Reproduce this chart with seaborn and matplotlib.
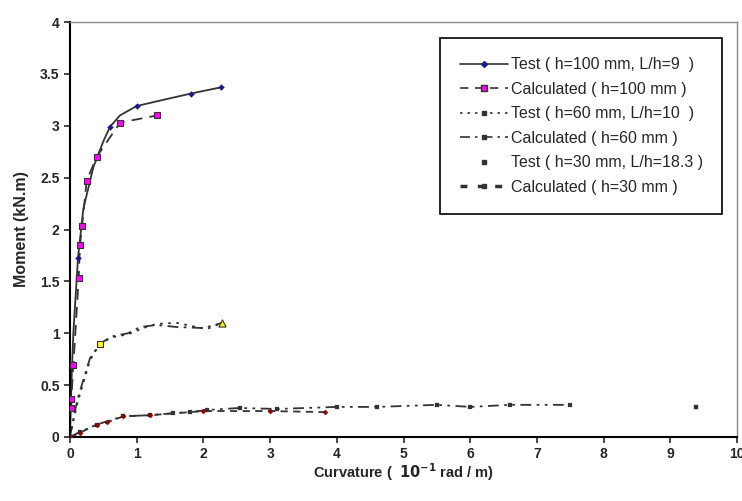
import matplotlib
matplotlib.use("Agg")
import matplotlib.pyplot as plt
import seaborn as sns
import pandas as pd
from matplotlib.lines import Line2D

# ---- data ----
test100_x = [0.0, 0.02, 0.05, 0.12, 0.2, 0.35, 0.5, 0.6, 0.75, 1.0, 1.4, 1.81, 2.26]
test100_y = [0.0, 0.5, 1.0, 1.73, 2.2, 2.6, 2.85, 2.99, 3.1, 3.19, 3.25, 3.31, 3.37]
test100_mx = [0.6, 1.0, 1.81, 2.26, 0.12]
test100_my = [2.99, 3.19, 3.31, 3.37, 1.73]

calc100_x = [0.02, 0.02, 0.05, 0.13, 0.15, 0.18, 0.25, 0.4, 0.75, 1.31]
calc100_y = [0.28, 0.37, 0.69, 1.53, 1.85, 2.03, 2.47, 2.70, 3.03, 3.10]

test60_x = [0.0, 0.05, 0.12, 0.2, 0.3, 0.45, 0.63, 0.87, 1.1, 1.3, 1.6, 2.05, 2.28]
test60_y = [0.0, 0.15, 0.35, 0.52, 0.74, 0.90, 0.96, 0.99, 1.05, 1.09, 1.10, 1.04, 1.10]

calc60_x = [0.0, 0.05, 0.12, 0.2, 0.3, 0.45, 0.63, 0.87, 1.05, 1.3, 1.6, 2.0, 2.28]
calc60_y = [0.0, 0.18, 0.38, 0.55, 0.76, 0.90, 0.97, 1.00, 1.06, 1.08, 1.06, 1.05, 1.10]

test30_x = [0.0, 0.15, 0.4, 0.8, 1.2, 1.55, 1.8, 2.05, 2.55, 3.1, 4.0, 4.6, 5.5, 6.0, 6.6, 7.5]
test30_y = [0.0, 0.05, 0.12, 0.2, 0.21, 0.23, 0.24, 0.26, 0.28, 0.27, 0.29, 0.29, 0.31, 0.29, 0.31, 0.31]
test30_last_x = [9.39]
test30_last_y = [0.29]

calc30_x = [0.0, 0.15, 0.4, 0.55, 0.8, 1.2, 2.0, 3.0, 3.82]
calc30_y = [0.0, 0.04, 0.12, 0.14, 0.20, 0.21, 0.25, 0.25, 0.24]

labels = ["Test ( h=100 mm, L/h=9  )", "Calculated ( h=100 mm )",
          "Test ( h=60 mm, L/h=10  )", "Calculated ( h=60 mm )",
          "Test ( h=30 mm, L/h=18.3 )", "Calculated ( h=30 mm )"]

xticks = [0, 1, 2, 3, 4, 5, 6, 7, 8, 9, 10]
yticks = [0, 0.5, 1, 1.5, 2, 2.5, 3, 3.5, 4]
ytick_labels = ["0", "0.5", "1", "1.5", "2", "2.5", "3", "3.5", "4"]

# ---- plot ----
sns.set_style("ticks")
plt.rcParams['font.family'] = ['Liberation Sans', 'DejaVu Sans']

fig = plt.figure(figsize=(7.42, 5.01), dpi=100)
ax = fig.add_axes([70/742, 64/501, 667/742, 415/501])

line_kw = dict(sort=False, estimator=None, ax=ax, legend=False)
sns.lineplot(x=test100_x, y=test100_y, color="#333333", lw=1.3, linestyle="-", **line_kw)
sns.scatterplot(x=test100_mx, y=test100_my, marker="D", s=9, color="#1a1a8c",
                edgecolor="#1a1a8c", ax=ax, legend=False, zorder=5)

sns.lineplot(x=calc100_x, y=calc100_y, color="#333333", lw=1.3, linestyle=(0, (6, 4)), **line_kw)
sns.scatterplot(x=calc100_x, y=calc100_y, marker="s", s=20, color="#ff00ff",
                edgecolor="#333333", linewidth=0.8, ax=ax, legend=False, zorder=5)

sns.lineplot(x=test60_x, y=test60_y, color="#333333", lw=1.3, linestyle=(0, (1.5, 3)), **line_kw)
sns.lineplot(x=calc60_x, y=calc60_y, color="#333333", lw=1.3, linestyle=(0, (6, 3, 1.5, 3)), **line_kw)
sns.scatterplot(x=[0.45], y=[0.90], marker="s", s=14, color="#ffff00",
                edgecolor="#333333", linewidth=0.8, ax=ax, legend=False, zorder=5)
sns.scatterplot(x=[2.28], y=[1.10], marker="^", s=26, color="#ffff00",
                edgecolor="#333333", linewidth=0.8, ax=ax, legend=False, zorder=5)

sns.lineplot(x=test30_x, y=test30_y, color="#333333", lw=1.3, linestyle=(0, (6, 3, 1.5, 3, 1.5, 3)), **line_kw)
sns.scatterplot(x=test30_x, y=test30_y, marker="s", s=5, color="#333333",
                edgecolor="#333333", ax=ax, legend=False, zorder=5)
sns.scatterplot(x=test30_last_x, y=test30_last_y, marker="s", s=12, color="#333333",
                edgecolor="#333333", ax=ax, legend=False, zorder=5)
sns.lineplot(x=calc30_x, y=calc30_y, color="#333333", lw=1.3, linestyle=(0, (4, 3)), **line_kw)
sns.scatterplot(x=calc30_x, y=calc30_y, marker="D", s=7, color="#8b0000",
                edgecolor="#8b0000", ax=ax, legend=False, zorder=5)

ax.set_xlim(0, 10)
ax.set_ylim(0, 4)
ax.set_xticks(xticks)
ax.set_xticklabels([str(t) for t in xticks])
ax.set_yticks(yticks)
ax.set_yticklabels(ytick_labels)
ax.tick_params(axis="both", direction="out", length=4, width=1.2, labelsize=10)
for lab in ax.get_xticklabels() + ax.get_yticklabels():
    lab.set_fontweight("bold")

for side in ["left", "bottom"]:
    ax.spines[side].set_color("black")
    ax.spines[side].set_linewidth(1.5)
for side in ["top", "right"]:
    ax.spines[side].set_visible(True)
    ax.spines[side].set_color("#888888")
    ax.spines[side].set_linewidth(1.0)

ax.set_xlabel(r"Curvature (  $\mathbf{10^{-1}}$ rad / m)", fontsize=10.5, fontweight="bold", labelpad=0)
ax.set_ylabel("Moment (kN.m)", fontsize=11.5, fontweight="bold", labelpad=8)

handles = [
    Line2D([], [], color="#333333", lw=1.2, ls="-", marker="D", ms=3,
           mfc="#1a1a8c", mec="#1a1a8c"),
    Line2D([], [], color="#333333", lw=1.2, ls=(0, (5, 4)), marker="s", ms=4,
           mfc="#ff00ff", mec="#333333"),
    Line2D([], [], color="#333333", lw=1.2, ls=(0, (1.5, 3)), marker="s", ms=2.5,
           mfc="#333333", mec="#333333"),
    Line2D([], [], color="#333333", lw=1.2, ls=(0, (6, 3, 1.5, 3)), marker="s", ms=2.5,
           mfc="#333333", mec="#333333"),
    Line2D([], [], color="#333333", lw=0, marker="s", ms=3,
           mfc="#333333", mec="#333333"),
    Line2D([], [], color="#333333", lw=2.5, ls=(0, (2, 3)), marker="s", ms=2.5,
           mfc="#333333", mec="#333333"),
]
leg = ax.legend(handles, labels, loc="upper right",
                bbox_to_anchor=(722/742, (501-38)/501), bbox_transform=fig.transFigure,
                frameon=True, fancybox=False, edgecolor="black", fontsize=11.5,
                handlelength=3.0, handletextpad=0.2, labelspacing=0.6,
                borderpad=1.2, borderaxespad=0, framealpha=1)
leg.get_frame().set_linewidth(1.2)

fig.savefig("out.png", dpi=100)
